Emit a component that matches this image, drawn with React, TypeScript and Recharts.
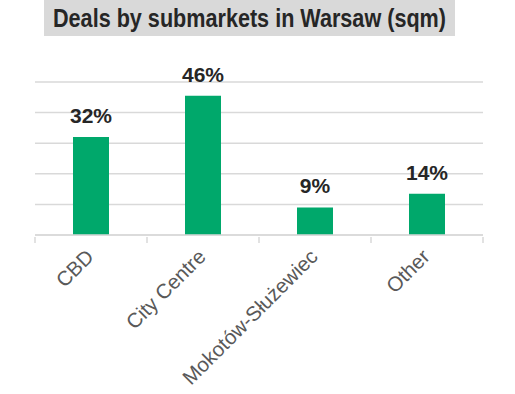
import { BarChart, Bar, XAxis, YAxis, CartesianGrid, LabelList } from 'recharts';

const submarkets = ['CBD', 'City Centre', 'Mokotów-Służewiec', 'Other'];
const shares = [32, 45.5, 9, 13.5];
const yTicks = [0, 10, 20, 30, 40, 50];

const data = submarkets.map((name, i) => ({ name, share: shares[i] }));

// half of one category band; Excel puts tick marks between categories
const HALF_BAND = 56;

const AngledTick = (props: any) => {
  const { x, y, payload, index } = props;
  const top = y - 8;
  return (
    <g>
      <line x1={x - HALF_BAND} x2={x - HALF_BAND} y1={top} y2={top + 6} stroke="#d9d9d9" strokeWidth={1.5} />
      {index === submarkets.length - 1 && (
        <line x1={x + HALF_BAND} x2={x + HALF_BAND} y1={top} y2={top + 6} stroke="#d9d9d9" strokeWidth={1.5} />
      )}
      <g transform={`translate(${x + 4},${y + 13})`}>
        <text
          transform="rotate(-45)"
          textAnchor="end"
          fill="#595959"
          fontSize={20.5}
          fontFamily="'Liberation Sans', Arial, sans-serif"
        >
          {payload.value}
        </text>
      </g>
    </g>
  );
};

const ValueLabel = (props: any) => {
  const { x, y, width, value } = props;
  return (
    <text
      x={x + width / 2}
      y={y - 14}
      textAnchor="middle"
      fill="#262626"
      fontSize={21}
      fontWeight="bold"
      fontFamily="'Liberation Sans', Arial, sans-serif"
    >
      {Math.round(value)}%
    </text>
  );
};

export default function App() {
  return (
    <div style={{ position: 'absolute', left: 0, top: 0, width: 515, height: 394, background: '#fff' }}>
      <svg width={515} height={40} style={{ position: 'absolute', left: 0, top: 0 }}>
        <rect x={44} y={0} width={411} height={36} fill="#d9d9d9" />
        <text
          x={53}
          y={27}
          textLength={393}
          lengthAdjust="spacingAndGlyphs"
          fill="#262626"
          fontSize={25}
          fontWeight="bold"
          fontFamily="'Liberation Sans', Arial, sans-serif"
        >
          Deals by submarkets in Warsaw (sqm)
        </text>
      </svg>
      <BarChart
        width={515}
        height={394}
        data={data}
        margin={{ top: 82, right: 32, left: 35, bottom: 9 }}
        barCategoryGap={38}
      >
        <CartesianGrid vertical={false} stroke="#d9d9d9" strokeWidth={1.5} />
        <YAxis hide domain={[0, 50]} ticks={yTicks} />
        <XAxis
          dataKey="name"
          height={150}
          interval={0}
          stroke="#d9d9d9"
          strokeWidth={1.5}
          tickLine={false}
          tickSize={8}
          tick={<AngledTick />}
        />
        <Bar dataKey="share" fill="#00a86b" isAnimationActive={false}>
          <LabelList dataKey="share" content={<ValueLabel />} />
        </Bar>
      </BarChart>
    </div>
  );
}
